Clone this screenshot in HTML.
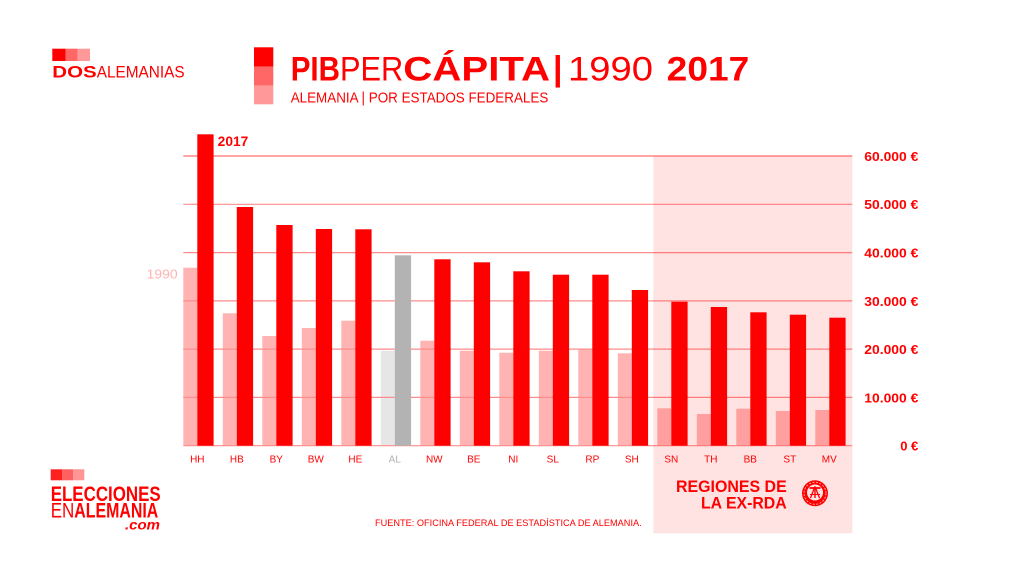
<!DOCTYPE html>
<html>
<head>
<meta charset="utf-8">
<style>
  html,body{margin:0;padding:0;background:#fff;}
  svg{display:block;}
  text{font-family:"Liberation Sans", sans-serif;}
</style>
</head>
<body>
<svg width="1024" height="576" viewBox="0 0 1024 576" xmlns="http://www.w3.org/2000/svg">
  <rect x="0" y="0" width="1024" height="576" fill="#ffffff"/>

  <!-- Top-left logo -->
  <rect x="52.3" y="48.7" width="13.4" height="12.3" fill="#ff0000"/>
  <rect x="65.7" y="48.7" width="12" height="12.3" fill="#ff6666"/>
  <rect x="77.7" y="48.7" width="12.3" height="12.3" fill="#ff9999"/>
  <text x="52.3" y="77.5" font-size="16.5" font-weight="bold" fill="#ff0000" textLength="44.4" lengthAdjust="spacingAndGlyphs">DOS</text>
  <text x="96.7" y="77.5" font-size="16.5" fill="#ff0000" textLength="88" lengthAdjust="spacingAndGlyphs">ALEMANIAS</text>

  <!-- Title block -->
  <rect x="254" y="47.3" width="19.3" height="19.4" fill="#ff0000"/>
  <rect x="254" y="66.7" width="19.3" height="19" fill="#ff6666"/>
  <rect x="254" y="85.7" width="19.3" height="18.6" fill="#ff9999"/>
  <text x="290.7" y="80.5" font-size="34" font-weight="bold" fill="#ff0000" textLength="49.3" lengthAdjust="spacingAndGlyphs">PIB</text>
  <text x="340" y="80.5" font-size="34" fill="#ff0000" textLength="63.3" lengthAdjust="spacingAndGlyphs">PER</text>
  <text x="403.3" y="80.5" font-size="34" font-weight="bold" fill="#ff0000" textLength="146.7" lengthAdjust="spacingAndGlyphs">CÁPITA</text>
  <text x="553" y="80" font-size="34" font-weight="bold" fill="#ff0000">|</text>
  <text x="568" y="80.5" font-size="34" fill="#ff0000" textLength="85" lengthAdjust="spacingAndGlyphs">1990</text>
  <text x="666.7" y="80.5" font-size="34" font-weight="bold" fill="#ff0000" textLength="82.6" lengthAdjust="spacingAndGlyphs">2017</text>
  <text x="290.7" y="102.5" font-size="15" fill="#ff0000" textLength="257.6" lengthAdjust="spacingAndGlyphs">ALEMANIA | POR ESTADOS FEDERALES</text>

  <!-- 1990 bars -->
  <g fill="#ffb3b3">
    <rect x="183.3" y="267.7" width="14" height="178"/>
    <rect x="222.8" y="313.3" width="14" height="132.4"/>
    <rect x="262.3" y="336" width="14" height="109.7"/>
    <rect x="301.8" y="328" width="14" height="117.7"/>
    <rect x="341.3" y="320.7" width="14" height="125"/>
    <rect x="380.8" y="350.7" width="14" height="95" fill="#e6e6e6"/>
    <rect x="420.3" y="340.7" width="14" height="105"/>
    <rect x="459.8" y="350.7" width="14" height="95"/>
    <rect x="499.3" y="352.7" width="14" height="93"/>
    <rect x="538.8" y="350.7" width="14" height="95"/>
    <rect x="578.3" y="349.3" width="14" height="96.4"/>
    <rect x="617.8" y="353.3" width="14" height="92.4"/>
    <rect x="657.3" y="408.3" width="14" height="37.4"/>
    <rect x="696.8" y="414" width="14" height="31.7"/>
    <rect x="736.3" y="408.7" width="14" height="37"/>
    <rect x="775.8" y="411" width="14" height="34.7"/>
    <rect x="815.3" y="410" width="14" height="35.7"/>
  </g>

  <!-- Gridlines -->
  <g stroke="#ff8c8c" stroke-width="1.2">
    <line x1="183.3" y1="156" x2="852.3" y2="156" stroke="#ff6f6f"/>
    <line x1="183.3" y1="204.3" x2="852.3" y2="204.3"/>
    <line x1="183.3" y1="252.6" x2="852.3" y2="252.6"/>
    <line x1="183.3" y1="300.9" x2="852.3" y2="300.9"/>
    <line x1="183.3" y1="349.1" x2="852.3" y2="349.1"/>
    <line x1="183.3" y1="397.4" x2="852.3" y2="397.4"/>
    <line x1="183.3" y1="445.7" x2="852.3" y2="445.7"/>
  </g>

  <!-- 2017 bars -->
  <g fill="#ff0000">
    <rect x="197.3" y="134.3" width="16.3" height="311.4"/>
    <rect x="236.8" y="207" width="16.3" height="238.7"/>
    <rect x="276.3" y="225" width="16.3" height="220.7"/>
    <rect x="315.8" y="229" width="16.3" height="216.7"/>
    <rect x="355.3" y="229.3" width="16.3" height="216.4"/>
    <rect x="394.8" y="255.3" width="16.3" height="190.4" fill="#b3b3b3"/>
    <rect x="434.3" y="259.3" width="16.3" height="186.4"/>
    <rect x="473.8" y="262.3" width="16.3" height="183.4"/>
    <rect x="513.3" y="271.3" width="16.3" height="174.4"/>
    <rect x="552.8" y="274.7" width="16.3" height="171"/>
    <rect x="592.3" y="274.7" width="16.3" height="171"/>
    <rect x="631.8" y="290" width="16.3" height="155.7"/>
    <rect x="671.3" y="301.7" width="16.3" height="144"/>
    <rect x="710.8" y="307" width="16.3" height="138.7"/>
    <rect x="750.3" y="312.3" width="16.3" height="133.4"/>
    <rect x="789.8" y="314.7" width="16.3" height="131"/>
    <rect x="829.3" y="317.7" width="16.3" height="128"/>
  </g>

  <!-- Category labels -->
  <g font-size="10" fill="#ff0000" text-anchor="middle">
    <text x="197.3" y="462.3">HH</text>
    <text x="236.8" y="462.3">HB</text>
    <text x="276.3" y="462.3">BY</text>
    <text x="315.8" y="462.3">BW</text>
    <text x="355.3" y="462.3">HE</text>
    <text x="394.8" y="462.3" fill="#b3b3b3">AL</text>
    <text x="434.3" y="462.3">NW</text>
    <text x="473.8" y="462.3">BE</text>
    <text x="513.3" y="462.3">NI</text>
    <text x="552.8" y="462.3">SL</text>
    <text x="592.3" y="462.3">RP</text>
    <text x="631.8" y="462.3">SH</text>
    <text x="671.3" y="462.3">SN</text>
    <text x="710.8" y="462.3">TH</text>
    <text x="750.3" y="462.3">BB</text>
    <text x="789.8" y="462.3">ST</text>
    <text x="829.3" y="462.3">MV</text>
  </g>

  <!-- Ex-RDA region overlay -->
  <rect x="653.3" y="156" width="199" height="377.3" fill="rgba(255,0,0,0.11)"/>

  <!-- Right axis labels -->
  <g font-size="13" font-weight="bold" fill="#ff0000" text-anchor="end">
    <text x="918.3" y="160.9" textLength="54" lengthAdjust="spacingAndGlyphs">60.000 €</text>
    <text x="918.3" y="209.2" textLength="54" lengthAdjust="spacingAndGlyphs">50.000 €</text>
    <text x="918.3" y="257.5" textLength="54" lengthAdjust="spacingAndGlyphs">40.000 €</text>
    <text x="918.3" y="305.8" textLength="54" lengthAdjust="spacingAndGlyphs">30.000 €</text>
    <text x="918.3" y="354" textLength="54" lengthAdjust="spacingAndGlyphs">20.000 €</text>
    <text x="918.3" y="402.3" textLength="54" lengthAdjust="spacingAndGlyphs">10.000 €</text>
    <text x="918.3" y="450.6">0 €</text>
  </g>

  <!-- Series labels -->
  <text x="146.7" y="278.3" font-size="13" fill="#ffb3b3" textLength="31" lengthAdjust="spacingAndGlyphs">1990</text>
  <text x="217.7" y="146" font-size="13.5" font-weight="bold" fill="#ff0000" textLength="30.6" lengthAdjust="spacingAndGlyphs">2017</text>

  <!-- Region label -->
  <text x="676" y="492" font-size="16.5" font-weight="bold" fill="#ff0000" textLength="110.7" lengthAdjust="spacingAndGlyphs">REGIONES DE</text>
  <text x="701" y="508.5" font-size="16.5" font-weight="bold" fill="#ff0000" textLength="85.7" lengthAdjust="spacingAndGlyphs">LA EX-RDA</text>

  <!-- Emblem -->
  <g>
    <circle cx="815" cy="493.3" r="13" fill="#ff0000"/>
    <circle cx="815" cy="493.3" r="11" fill="none" stroke="#ffc8c8" stroke-width="0.8" stroke-dasharray="2 1.5"/>
    <circle cx="815" cy="492.5" r="8" fill="#ffe3e3"/>
    <line x1="809.5" y1="488" x2="820.5" y2="488" stroke="#ff0000" stroke-width="1.8"/>
    <line x1="815" y1="488" x2="815" y2="498" stroke="#ff0000" stroke-width="1.4"/>
    <path d="M815 486.5 L810.5 498 M815 486.5 L819.5 498" stroke="#ff0000" stroke-width="1.3" fill="none"/>
    <line x1="810" y1="494.5" x2="820" y2="494.5" stroke="#ff0000" stroke-width="1"/>
  </g>

  <!-- Source -->
  <text x="375" y="526" font-size="9.5" fill="#ff0000" textLength="266.7" lengthAdjust="spacingAndGlyphs">FUENTE: OFICINA FEDERAL DE ESTADÍSTICA DE ALEMANIA.</text>

  <!-- Bottom-left logo -->
  <rect x="50.7" y="469.3" width="11.3" height="11" fill="#ff2020"/>
  <rect x="62" y="469.3" width="11.3" height="11" fill="#ff6060"/>
  <rect x="73.3" y="469.3" width="11" height="11" fill="#ff9595"/>
  <text x="50.7" y="501" font-size="21" font-weight="bold" fill="#ff0000" textLength="110" lengthAdjust="spacingAndGlyphs">ELECCIONES</text>
  <text x="50.7" y="517.5" font-size="21" fill="#ff0000" textLength="23.6" lengthAdjust="spacingAndGlyphs">EN</text>
  <text x="74.3" y="517.5" font-size="21" font-weight="bold" fill="#ff0000" textLength="84" lengthAdjust="spacingAndGlyphs">ALEMANIA</text>
  <text x="125" y="529.5" font-size="14" font-weight="bold" font-style="italic" fill="#ff0000" textLength="35" lengthAdjust="spacingAndGlyphs">.com</text>
</svg>
</body>
</html>
